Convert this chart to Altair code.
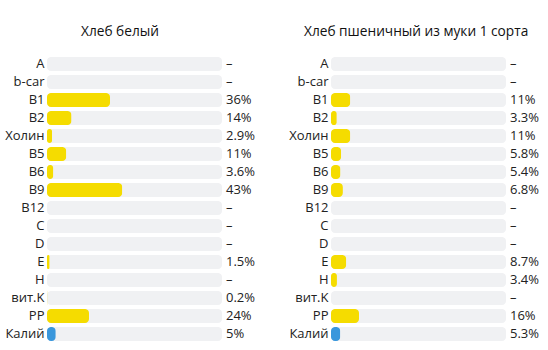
import altair as alt
import pandas as pd

nutrients = ["A", "b-car", "B1", "B2", "Холин", "B5", "B6", "B9", "B12", "C", "D", "E", "H", "вит.K", "PP", "Калий"]
kinds = ["vit"] * 15 + ["min"]
white_vals = [None, None, 36, 14, 2.9, 11, 3.6, 43, None, None, None, 1.5, None, 0.2, 24, 5]
wheat_vals = [None, None, 11, 3.3, 11, 5.8, 5.4, 6.8, None, None, None, 8.7, 3.4, None, 16, 5.3]
titles = ["Хлеб белый", "Хлеб пшеничный из муки 1 сорта"]

FONT = "Open Sans"


def fmt(v):
    return "–" if v is None else f"{v:g}%"


def panel(vals, title, dx, width):
    df = pd.DataFrame({
        "n": nutrients,
        "v": vals,
        "kind": kinds,
        "full": [100] * len(nutrients),
        "label": [fmt(v) for v in vals],
    })
    y = alt.Y("n:N", sort=nutrients,
              scale=alt.Scale(paddingInner=0.22, paddingOuter=0.11),
              axis=alt.Axis(title=None, ticks=False, domain=False, labelPadding=3,
                            labelFontSize=13, labelFont=FONT, labelColor="#222"))
    xs = alt.Scale(domain=[0, 100], range=[0, 175])
    base = alt.Chart(df)
    track = base.mark_bar(cornerRadius=4, color="#f0f1f3").encode(
        x=alt.X("full:Q", scale=xs, axis=None), y=y)
    bar = base.transform_filter("isValid(datum.v)").mark_bar(cornerRadius=4).encode(
        x=alt.X("v:Q", scale=xs, axis=None), y=y,
        color=alt.Color("kind:N", scale=alt.Scale(domain=["vit", "min"], range=["#f5dc00", "#3a97dc"]), legend=None))
    txt = base.mark_text(align="left", baseline="middle", fontSize=13, font=FONT, color="#222").encode(
        x=alt.value(179), y=y, text="label:N")
    return alt.layer(track, bar, txt).properties(
        width=width, height=288,
        title=alt.TitleParams(title, anchor="start", frame="group", dx=dx, fontSize=13.7, fontWeight="normal",
                              font=FONT, color="#111", offset=16))


left = panel(white_vals, titles[0], 34, 210)
right = panel(wheat_vals, titles[1], -27, 210)

chart = alt.hconcat(left, right, spacing=31).properties(
    padding={"top": 25, "left": 4, "right": 2, "bottom": 0}
).configure_view(stroke=None)

chart.save("out.html", embed_options={"renderer": "svg", "actions": False})
